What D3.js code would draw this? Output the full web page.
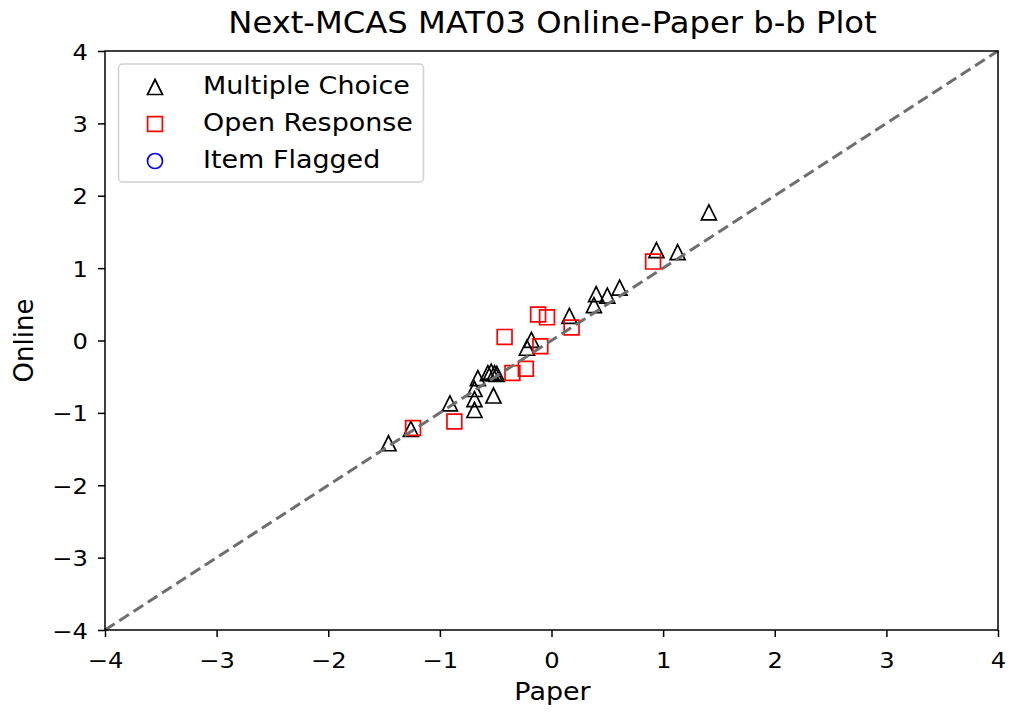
<!DOCTYPE html>
<html>
<head>
<meta charset="utf-8">
<script src="https://cdn.jsdelivr.net/npm/d3@7"></script>
<style>
  html, body { margin: 0; padding: 0; background: #fff; }
  svg { display: block; font-family: "DejaVu Sans", sans-serif; }
</style>
</head>
<body>
<svg id="chart" width="1011" height="712"></svg>
<script>
// Item difficulty (b) estimates: paper form vs. online form
const mcPaper  = [-1.46, -1.26, -0.91, -0.69, -0.69, -0.69, -0.66, -0.52, -0.57, -0.54, -0.51, -0.49, -0.22, -0.18, 0.16, 0.38, 0.40, 0.50, 0.61, 0.94, 1.13, 1.41];
const mcOnline = [-1.42, -1.22, -0.87, -0.96, -0.81, -0.67, -0.52, -0.76, -0.45, -0.43, -0.45, -0.46, -0.10, 0.01, 0.34, 0.49, 0.64, 0.62, 0.73, 1.25, 1.22, 1.77];
const orPaper  = [-1.24, -0.87, -0.42, -0.35, -0.23, -0.10, -0.12, -0.04, 0.18, 0.91];
const orOnline = [-1.21, -1.12, 0.05, -0.45, -0.39, -0.08, 0.36, 0.32, 0.18, 1.09];
const flaggedPaper  = [];
const flaggedOnline = [];
const tickValues = [-4, -3, -2, -1, 0, 1, 2, 3, 4];
const domain = [-4, 4];
const legendLabels = ["Multiple Choice", "Open Response", "Item Flagged"];
const titleText = "Next-MCAS MAT03 Online-Paper b-b Plot";

const svg = d3.select("#chart");
const plot = { left: 105, right: 998, top: 51, bottom: 630 };
const SX = 1.1; // horizontal glyph stretch

const x = d3.scaleLinear().domain(domain).range([plot.left, plot.right]);
const y = d3.scaleLinear().domain(domain).range([plot.bottom, plot.top]);

const fmt = d => d < 0 ? "\u2212" + Math.abs(d) : String(d);

// markers
const triPath = h => `M0,${-h}L${h},${h}L${-h},${h}Z`;
const sqPath = h => `M${-h},${-h}H${h}V${h}H${-h}Z`;
const MW = 1.7;

const mcData = mcPaper.map((p, i) => ({ p, o: mcOnline[i] }));
const orData = orPaper.map((p, i) => ({ p, o: orOnline[i] }));
const flData = flaggedPaper.map((p, i) => ({ p, o: flaggedOnline[i] }));

const marks = svg.append("g");
marks.selectAll("path.mc").data(mcData).join("path")
  .attr("class", "mc")
  .attr("d", triPath(7.5))
  .attr("transform", d => `translate(${x(d.p)},${y(d.o)})`)
  .attr("fill", "none").attr("stroke", "#000").attr("stroke-width", MW);

marks.selectAll("path.or").data(orData).join("path")
  .attr("class", "or")
  .attr("d", sqPath(7.4))
  .attr("transform", d => `translate(${x(d.p)},${y(d.o)})`)
  .attr("fill", "none").attr("stroke", "#ff0000").attr("stroke-width", MW);

marks.selectAll("circle.fl").data(flData).join("circle")
  .attr("class", "fl")
  .attr("cx", d => x(d.p)).attr("cy", d => y(d.o)).attr("r", 7.5)
  .attr("fill", "none").attr("stroke", "#0000ff").attr("stroke-width", MW);

// identity line
svg.append("line")
  .attr("x1", x(domain[0])).attr("y1", y(domain[0]))
  .attr("x2", x(domain[1])).attr("y2", y(domain[1]))
  .attr("stroke", "#6e6e6e").attr("stroke-width", 3)
  .attr("stroke-dasharray", "11.5,5.5");

// axes
const xAxis = svg.append("g")
  .attr("transform", `translate(0,${plot.bottom})`)
  .call(d3.axisBottom(x).tickValues(tickValues).tickFormat(fmt).tickSize(7));
const yAxis = svg.append("g")
  .attr("transform", `translate(${plot.left},0)`)
  .call(d3.axisLeft(y).tickValues(tickValues).tickFormat(fmt).tickSize(7));

[xAxis, yAxis].forEach(g => {
  g.select(".domain").remove();
  g.selectAll(".tick line").attr("stroke", "#000").attr("stroke-width", 1.5);
  g.selectAll(".tick text")
    .attr("fill", "#000")
    .attr("font-family", "DejaVu Sans")
    .attr("font-size", 22)
    .attr("dy", null);
});
xAxis.selectAll(".tick text").attr("y", 38).attr("transform", `scale(${SX},1)`);
yAxis.selectAll(".tick text").attr("x", -15.5).attr("y", 8).attr("transform", `scale(${SX},1)`);

// frame
svg.append("rect")
  .attr("x", plot.left).attr("y", plot.top)
  .attr("width", plot.right - plot.left).attr("height", plot.bottom - plot.top)
  .attr("fill", "none").attr("stroke", "#000").attr("stroke-width", 1.5);

// title and axis labels
function stretchedText(px, py, str, size, anchor) {
  return svg.append("text")
    .attr("transform", `translate(${px},${py}) scale(${SX},1)`)
    .attr("text-anchor", anchor)
    .attr("font-size", size)
    .attr("fill", "#000")
    .text(str);
}
stretchedText((plot.left + plot.right) / 2 + 1, 33, titleText, 29.3, "middle");
stretchedText((plot.left + plot.right) / 2 + 1, 700, "Paper", 24.5, "middle");
svg.append("text")
  .attr("transform", `translate(33,${(plot.top + plot.bottom) / 2}) rotate(-90)`)
  .attr("text-anchor", "middle")
  .attr("font-size", 26)
  .attr("fill", "#000")
  .text("Online");

// legend
const legend = svg.append("g");
legend.append("rect")
  .attr("x", 118.5).attr("y", 64).attr("width", 305).attr("height", 118).attr("rx", 4)
  .attr("fill", "#fff").attr("fill-opacity", 0.8)
  .attr("stroke", "#d0d0d0").attr("stroke-width", 1.5);

const legendRows = [
  { label: legendLabels[0], shape: "tri", color: "#000" },
  { label: legendLabels[1], shape: "sq", color: "#ff0000" },
  { label: legendLabels[2], shape: "circ", color: "#0000ff" }
];
legendRows.forEach((r, i) => {
  const cy = 87 + i * 37;
  if (r.shape === "circ") {
    legend.append("circle").attr("cx", 155).attr("cy", cy).attr("r", 7.5)
      .attr("fill", "none").attr("stroke", r.color).attr("stroke-width", MW);
  } else {
    legend.append("path")
      .attr("d", r.shape === "tri" ? triPath(7.5) : sqPath(7.4))
      .attr("transform", `translate(155,${cy})`)
      .attr("fill", "none").attr("stroke", r.color).attr("stroke-width", MW);
  }
  legend.append("text")
    .attr("transform", `translate(203,${cy + 7}) scale(${SX},1)`)
    .attr("font-size", 24.5)
    .attr("fill", "#000")
    .text(r.label);
});
</script>
</body>
</html>
